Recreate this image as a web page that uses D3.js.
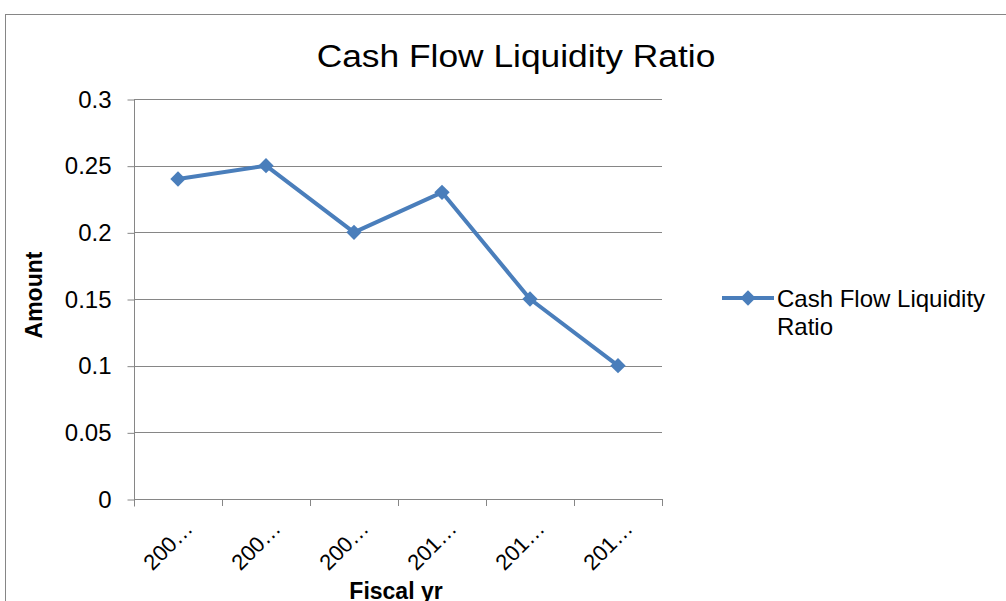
<!DOCTYPE html>
<html>
<head>
<meta charset="utf-8">
<script src="https://cdn.jsdelivr.net/npm/d3@7"></script>
<style>
  body { margin: 0; background: #fff; }
  svg { font-family: "Liberation Sans", Arial, sans-serif; }
</style>
</head>
<body>
<script>
// data
var jaren = ["200\u2026", "200\u2026", "200\u2026", "201\u2026", "201\u2026", "201\u2026"];
var ratio = [0.24, 0.25, 0.20, 0.23, 0.15, 0.10];
var yTicks = [0, 0.05, 0.1, 0.15, 0.2, 0.25, 0.3];
var reeksNaam = ["Cash Flow Liquidity", "Ratio"];

var breedte = 1006, hoogte = 601;
var marge = {boven: 99, beneden: 102, links: 134, rechts: 344};
var blauw = "#4a7ebb";
var grijs = "#868686";

var svg = d3.select("body").append("svg")
    .attr("width", breedte)
    .attr("height", hoogte);

// kader rond de grafiek
svg.append("rect")
    .attr("x", 5.5).attr("y", 14.5)
    .attr("width", 1010).attr("height", 600)
    .attr("fill", "none")
    .attr("stroke", grijs)
    .attr("stroke-width", 1);

var x = d3.scaleBand()
    .domain(d3.range(jaren.length))
    .range([marge.links, breedte - marge.rechts]);

var y = d3.scaleLinear()
    .domain([0, 0.3])
    .range([hoogte - marge.beneden, marge.boven]);

// horizontale rasterlijnen
svg.append("g")
    .selectAll("line")
    .data(yTicks.slice(1))
    .enter().append("line")
    .attr("x1", marge.links).attr("x2", breedte - marge.rechts)
    .attr("y1", function(d) { return Math.round(y(d)) + 0.5; })
    .attr("y2", function(d) { return Math.round(y(d)) + 0.5; })
    .attr("stroke", grijs);

// y-as
var asY = svg.append("g")
    .attr("transform", "translate(" + (marge.links + 0.5) + ",0.5)")
    .call(d3.axisLeft(y).tickValues(yTicks).tickSize(7).tickPadding(16)
      .tickFormat(function(d) { return d3.format("")(+d.toFixed(2)); }));
asY.select(".domain").attr("stroke", grijs).attr("d", "M0," + y(0.3) + "V" + (y(0) + 7));
asY.selectAll(".tick line").attr("stroke", grijs);
asY.selectAll(".tick text").attr("font-size", "24px").attr("fill", "#000")
    .attr("font-family", "Liberation Sans, Arial, sans-serif");

// x-as
var asX = svg.append("g")
    .attr("transform", "translate(0," + (Math.round(y(0)) + 0.5) + ")")
    .call(d3.axisBottom(x).tickSize(0).tickFormat(function(d) { return jaren[d]; }));
asX.select(".domain").attr("stroke", grijs).attr("d", "M" + marge.links + ",0H" + (breedte - marge.rechts));
asX.selectAll(".tick text").remove();

// tick-streepjes tussen de categorieen
svg.append("g")
    .selectAll("line")
    .data(d3.range(jaren.length + 1))
    .enter().append("line")
    .attr("x1", function(i) { return Math.round(marge.links + i * x.step()) + 0.5; })
    .attr("x2", function(i) { return Math.round(marge.links + i * x.step()) + 0.5; })
    .attr("y1", y(0)).attr("y2", y(0) + 7)
    .attr("stroke", grijs);

// schuine labels
svg.append("g")
    .selectAll("text")
    .data(jaren)
    .enter().append("text")
    .attr("transform", function(d, i) {
      return "translate(" + (x(i) + x.bandwidth() / 2 + 16) + "," + (y(0) + 31) + ") rotate(-45)";
    })
    .attr("text-anchor", "end")
    .attr("font-size", "22px")
    .text(function(d) { return d; });

// lijn
var lijn = d3.line()
    .x(function(d, i) { return x(i) + x.bandwidth() / 2; })
    .y(function(d) { return y(d); });

svg.append("path")
    .datum(ratio)
    .attr("d", lijn)
    .attr("fill", "none")
    .attr("stroke", blauw)
    .attr("stroke-width", 4)
    .attr("stroke-linejoin", "round");

var ruit = d3.symbol().type(d3.symbolDiamond2).size(150);

svg.append("g")
    .selectAll("path")
    .data(ratio)
    .enter().append("path")
    .attr("d", ruit)
    .attr("transform", function(d, i) {
      return "translate(" + (x(i) + x.bandwidth() / 2) + "," + y(d) + ")";
    })
    .attr("fill", blauw);

// titels
svg.append("text")
    .attr("transform", "translate(516,67) scale(1.14,1)")
    .attr("text-anchor", "middle")
    .attr("font-size", "31px")
    .text("Cash Flow Liquidity Ratio");

svg.append("text")
    .attr("transform", "translate(42,295) rotate(-90)")
    .attr("text-anchor", "middle")
    .attr("font-size", "23px")
    .attr("font-weight", "bold")
    .text("Amount");

svg.append("text")
    .attr("x", 396)
    .attr("y", 599)
    .attr("text-anchor", "middle")
    .attr("font-size", "23px")
    .attr("font-weight", "bold")
    .text("Fiscal yr");

// legenda
var legenda = svg.append("g").attr("transform", "translate(722,298)");
legenda.append("line")
    .attr("x1", 0).attr("x2", 52).attr("y1", 0).attr("y2", 0)
    .attr("stroke", blauw).attr("stroke-width", 4);
legenda.append("path")
    .attr("d", ruit)
    .attr("transform", "translate(26,0)")
    .attr("fill", blauw);
legenda.selectAll("text")
    .data(reeksNaam)
    .enter().append("text")
    .attr("x", 55)
    .attr("y", function(d, i) { return 9 + i * 28; })
    .attr("font-size", "24px")
    .text(function(d) { return d; });
</script>
</body>
</html>
